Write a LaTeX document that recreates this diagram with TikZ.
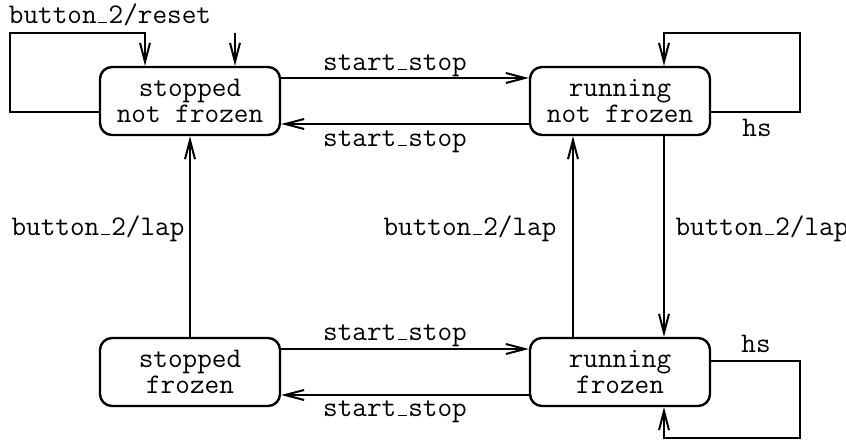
\documentclass[tikz,border=0pt]{standalone}
\usetikzlibrary{arrows.meta}
% low, short underscore rule as in classic typewriter labels
\newcommand{\usc}{\kern.06em\vbox{\hrule width.3em height .7pt}\kern.06em}
\begin{document}
\begin{tikzpicture}[x=0.5pt,y=-0.5pt,
  ttxt/.style={font=\fontsize{14.2}{13}\selectfont\ttfamily},
  state/.style={ttxt,draw,line width=1.2pt,rounded corners=6pt,
    minimum width=90pt,minimum height=34pt,inner sep=0pt,align=center},
  lbl/.style={ttxt,anchor=base,inner sep=0pt},
  trans/.style={line width=1pt,-{Straight Barb[length=9.5pt,width=5pt,line width=1pt]}}]
\useasboundingbox (0,0) rectangle (846,440);

% states
\node[state] (snf) at (190,101) {stopped\\not frozen};
\node[state] (rnf) at (620,101) {running\\not frozen};
\node[state] (sf)  at (190,372) {stopped\\frozen};
\node[state] (rf)  at (620,372) {running\\frozen};

% loop corners and the initial mark
\coordinate (init) at (235,33);
\coordinate (resetcorner) at (10,33);
\coordinate (hscorner) at (800,33);
\coordinate (hslow) at (800,438);

% initial state
\draw[trans] (init) -- (init |- snf.north);

% start_stop transitions
\draw[trans] ([yshift=11.5pt]snf.east) -- ([yshift=11.5pt]rnf.west);
\draw[trans] ([yshift=-11.5pt]rnf.west) -- ([yshift=-11.5pt]snf.east);
\draw[trans] ([yshift=11.5pt]sf.east) -- ([yshift=11.5pt]rf.west);
\draw[trans] ([yshift=-11.5pt]rf.west) -- ([yshift=-11.5pt]sf.east);

% lap transitions
\draw[trans] (sf) -- (snf);
\draw[trans] ([xshift=-23.5pt]rf.north) -- ([xshift=-23.5pt]rnf.south);
\draw[trans] ([xshift=22pt]rnf.south) -- ([xshift=22pt]rf.north);

% self loops
\draw[trans] ([yshift=-5.5pt]snf.west) -| (resetcorner) -| ([xshift=-22.5pt]snf.north);
\draw[trans] ([yshift=-5.5pt]rnf.east) -| (hscorner) -| ([xshift=22pt]rnf.north);
\draw[trans] ([yshift=5.5pt]rf.east) -| (hslow) -| ([xshift=22pt]rf.south);

% labels
\node[lbl] (lreset) at (110,23) {button\usc2/reset};
\node[lbl] (ls1) at (395,70) {start\usc stop};
\node[lbl] (ls2) at (395,146) {start\usc stop};
\node[lbl] (ls3) at (395,340) {start\usc stop};
\node[lbl] (ls4) at (395,416) {start\usc stop};
\node[lbl] (ll1) at (98,235) {button\usc2/lap};
\node[lbl] (ll2) at (470,235) {button\usc2/lap};
\node[lbl] (ll3) at (762,235) {button\usc2/lap};
\node[lbl] (lhs1) at (757,136) {hs};
\node[lbl] (lhs2) at (756,352) {hs};
\end{tikzpicture}
\end{document}
